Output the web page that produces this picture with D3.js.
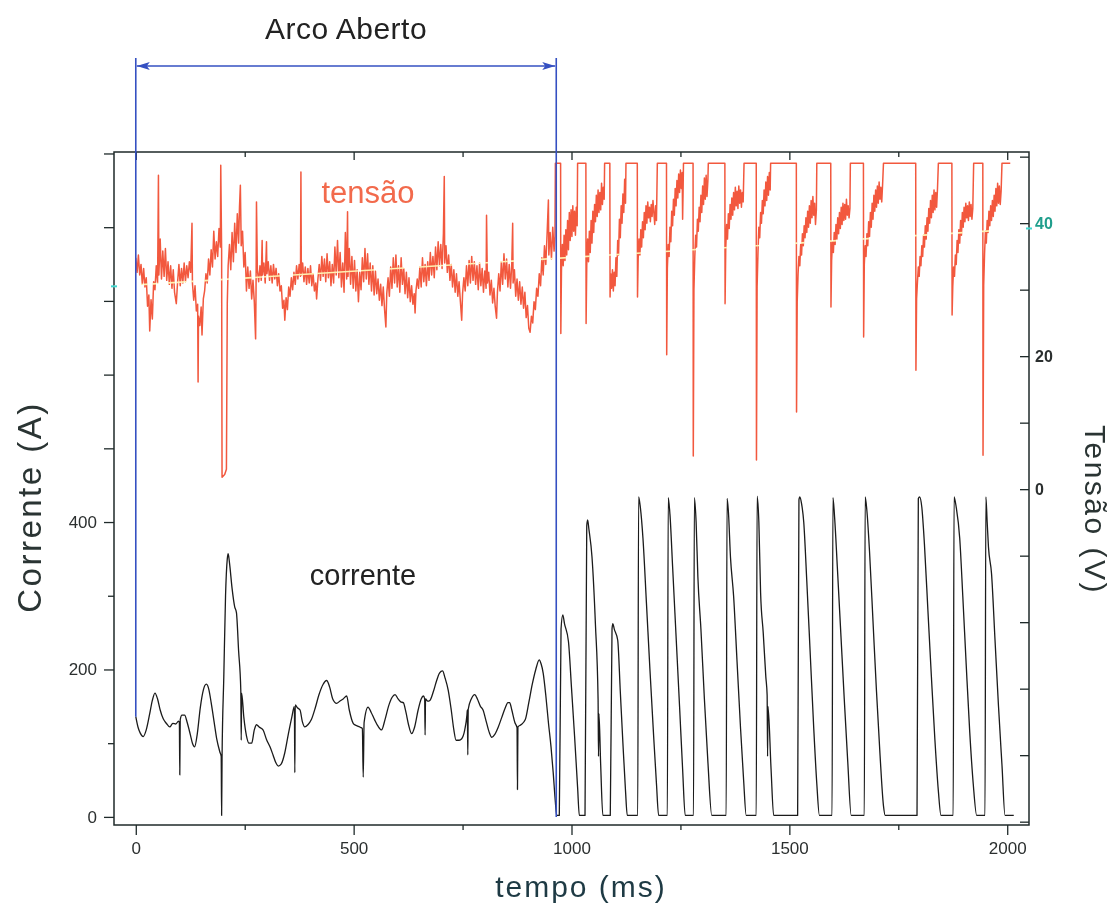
<!DOCTYPE html>
<html>
<head>
<meta charset="utf-8">
<script src="https://cdn.jsdelivr.net/npm/d3@7"></script>
<style>
  body { margin: 0; background: #fff; }
  svg { display: block; font-family: 'Liberation Sans', Arial, sans-serif; }
</style>
</head>
<body>
<div id="chart"></div>
<script>
// tempo (ms), corrente (A) — arco aberto, antes de ~965 ms
const correnteArcoAberto = [
  [0, 136], [5, 122], [10, 114], [17, 109], [24, 118], [32, 140], [38, 158], [44, 168], [50, 160], [56, 145],
  [63, 133], [70, 127], [78, 122], [85, 127], [92, 126], [98, 130], [100, 128], [101, 57], [102, 132], [106, 138],
  [112, 138], [118, 128], [125, 112], [130, 100], [135, 95], [141, 112], [148, 148], [155, 172], [162, 180], [168, 172],
  [173, 155], [180, 128], [186, 105], [193, 88], [196, 82], [197, 2], [198, 80], [202, 190], [206, 300], [210, 350],
  [212, 357], [215, 345], [221, 310], [227, 285], [231, 277], [236, 225], [241, 172], [242, 104], [243, 168], [248, 135],
  [254, 110], [260, 100], [266, 100], [272, 118], [277, 125], [283, 122], [292, 118], [300, 105], [308, 95], [315, 84],
  [321, 74], [327, 69], [334, 72], [342, 87], [350, 112], [358, 135], [364, 150], [365, 60], [366, 152], [371, 148],
  [377, 145], [382, 130], [388, 122], [395, 125], [403, 132], [412, 148], [420, 165], [430, 180], [438, 185], [445, 176],
  [452, 160], [461, 154], [468, 157], [476, 160], [484, 164], [490, 145], [499, 127], [506, 124], [514, 122], [520, 120],
  [522, 54], [524, 128], [533, 149], [540, 142], [548, 132], [556, 123], [564, 118], [572, 132], [580, 150], [588, 162],
  [595, 166], [602, 160], [608, 156], [614, 155], [620, 142], [626, 125], [633, 113], [640, 122], [648, 145], [655, 160],
  [660, 164], [663, 160], [664, 111], [665, 160], [670, 157], [675, 158], [683, 170], [690, 184], [697, 195], [704, 198],
  [710, 188], [717, 172], [724, 145], [730, 118], [735, 104], [742, 104], [748, 106], [755, 118], [760, 138], [761, 145],
  [762, 84], [763, 146], [770, 160], [778, 166], [784, 160], [791, 150], [797, 145], [804, 130], [811, 115], [817, 108],
  [824, 112], [832, 122], [840, 135], [848, 148], [854, 155], [858, 155], [863, 145], [870, 128], [875, 121], [876, 37],
  [877, 122], [884, 125], [894, 132], [902, 155], [910, 180], [918, 200], [926, 213], [930, 208], [935, 195], [941, 165],
  [947, 128], [953, 95], [958, 60], [963, 20], [966, 2]
]

// tempo (ms), corrente (A) — pulsos após ~965 ms
const correntePulsos = [
  [969, 2], [972, 2], [976, 255], [980, 274], [984, 262], [993, 238], [1000, 175], [1007, 110], [1014, 40], [1018, 2],
  [1031, 2], [1035, 395], [1037, 403], [1040, 390], [1047, 353], [1055, 260], [1061, 160], [1062, 82], [1063, 140], [1067, 70], [1072, 2],
  [1089, 2], [1093, 255], [1095, 262], [1098, 255], [1106, 240], [1112, 170], [1118, 100], [1124, 35], [1128, 2],
  [1152, 2], [1154, 434], [1158, 420], [1164, 378], [1172, 290], [1180, 200], [1188, 115], [1195, 45], [1200, 2],
  [1220, 2], [1222, 433], [1226, 410], [1232, 340], [1240, 245], [1248, 150], [1255, 65], [1261, 2],
  [1280, 2], [1282, 433], [1286, 400], [1290, 326], [1297, 255], [1305, 160], [1313, 75], [1322, 2],
  [1355, 2], [1357, 432], [1360, 415], [1365, 351], [1372, 300], [1380, 210], [1388, 120], [1395, 50], [1401, 2],
  [1424, 2], [1426, 435], [1430, 400], [1434, 304], [1440, 250], [1446, 190], [1449, 165], [1450, 82], [1451, 150], [1458, 65], [1464, 2],
  [1519, 2], [1522, 430], [1524, 434], [1528, 425], [1533, 400], [1540, 320], [1548, 220], [1556, 120], [1563, 45], [1569, 2],
  [1598, 2], [1600, 433], [1604, 405], [1610, 340], [1618, 250], [1626, 160], [1634, 75], [1642, 2],
  [1672, 2], [1674, 434], [1678, 415], [1684, 360], [1692, 265], [1700, 170], [1708, 85], [1716, 15], [1720, 2],
  [1793, 2], [1796, 432], [1799, 434], [1804, 420], [1810, 370], [1818, 280], [1826, 190], [1834, 105], [1842, 35], [1848, 2],
  [1876, 2], [1878, 434], [1883, 420], [1891, 378], [1898, 300], [1906, 205], [1914, 115], [1922, 45], [1930, 2],
  [1949, 2], [1951, 434], [1954, 400], [1957, 366], [1964, 330], [1972, 240], [1980, 150], [1988, 70], [1995, 2], [2015, 2]
]

// tempo (ms), tensão (V) — arco aberto
const tensaoArcoAberto = [
  [0, 34.8], [3, 32.6], [6, 35.2], [9, 32.2], [12, 33.8], [15, 30.8], [18, 33.2], [21, 30.4], [24, 31.8], [27, 27.5],
  [30, 29.2], [32, 23.8], [35, 28.5], [38, 25.6], [41, 31.2], [44, 30.0], [47, 33.6], [50, 31.0], [52, 47.2], [53, 32.2],
  [56, 37.6], [59, 31.6], [62, 35.8], [65, 32.0], [68, 36.2], [71, 31.4], [74, 34.2], [77, 30.8], [80, 33.6], [83, 30.2],
  [86, 33.0], [89, 29.6], [93, 27.9], [96, 31.2], [99, 33.8], [102, 30.6], [105, 33.2], [108, 31.0], [111, 34.0], [114, 31.2],
  [117, 33.6], [120, 31.8], [123, 34.2], [126, 32.6], [129, 40.0], [130, 31.0], [133, 28.4], [136, 30.6], [139, 26.8], [142, 27.8],
  [143, 16.1], [144, 26.0], [147, 24.6], [150, 27.4], [152, 23.2], [155, 28.6], [158, 29.8], [161, 32.4], [164, 31.0], [167, 34.6],
  [170, 32.2], [173, 36.0], [176, 33.4], [179, 38.8], [182, 34.6], [185, 37.2], [188, 35.0], [191, 39.2], [194, 36.4], [195, 48.7],
  [197, 36.0], [198, 1.8], [204, 2.2], [208, 3.0], [210, 28.0], [212, 33.6], [215, 36.8], [218, 33.0], [221, 38.6], [224, 34.2],
  [227, 40.0], [230, 35.6], [233, 41.4], [236, 37.0], [238, 42.4], [240, 45.7], [242, 36.6], [245, 38.8], [248, 33.4], [251, 35.6],
  [254, 29.8], [257, 33.4], [260, 30.2], [263, 32.8], [266, 28.6], [269, 31.4], [272, 28.2], [275, 22.6], [276, 30.0], [277, 43.2],
  [279, 33.0], [282, 31.2], [285, 33.6], [288, 31.4], [290, 37.4], [291, 32.2], [294, 34.0], [297, 31.0], [300, 37.2], [301, 32.4],
  [304, 34.2], [307, 31.4], [310, 33.6], [313, 31.0], [316, 33.8], [319, 31.6], [322, 33.2], [325, 30.6], [328, 32.4], [331, 29.8],
  [334, 30.6], [337, 27.2], [340, 28.4], [342, 25.4], [345, 28.8], [348, 27.0], [351, 30.4], [354, 29.0], [357, 31.8], [360, 30.0],
  [363, 32.6], [366, 30.8], [369, 33.6], [372, 31.6], [375, 33.8], [378, 32.0], [379, 47.7], [380, 32.2], [383, 34.0], [386, 31.2],
  [389, 33.4], [392, 30.8], [395, 33.2], [398, 31.0], [401, 33.6], [404, 30.6], [407, 32.4], [410, 29.8], [413, 31.0], [415, 28.6],
  [418, 31.6], [421, 33.8], [424, 31.4], [427, 35.0], [430, 32.0], [433, 34.6], [436, 31.2], [439, 35.4], [442, 31.8], [445, 34.2],
  [448, 30.6], [451, 33.8], [454, 31.0], [457, 36.4], [460, 32.2], [463, 37.4], [466, 31.8], [469, 35.6], [472, 30.4], [475, 34.0],
  [478, 29.6], [481, 38.6], [484, 31.6], [486, 41.7], [487, 32.0], [490, 36.2], [493, 30.8], [496, 35.0], [499, 30.2], [502, 34.4],
  [505, 29.8], [508, 33.0], [511, 28.2], [514, 32.6], [517, 30.0], [520, 34.8], [523, 31.2], [526, 36.2], [529, 31.6], [532, 35.4],
  [535, 30.8], [538, 34.0], [541, 29.8], [544, 33.6], [547, 29.2], [550, 32.8], [553, 29.4], [556, 31.6], [559, 28.4], [562, 30.8],
  [565, 27.6], [568, 30.4], [571, 27.0], [574, 24.4], [576, 29.4], [579, 31.8], [582, 29.0], [585, 33.4], [588, 30.2], [591, 34.8],
  [594, 31.0], [597, 35.2], [600, 30.4], [603, 33.6], [606, 29.6], [609, 34.8], [612, 30.8], [615, 33.2], [618, 29.4], [621, 32.6],
  [624, 28.8], [627, 31.8], [630, 28.2], [633, 30.6], [636, 27.8], [639, 29.4], [641, 26.5], [643, 29.8], [646, 31.6], [649, 30.2],
  [652, 33.4], [655, 30.4], [658, 34.8], [661, 31.2], [664, 33.8], [667, 30.6], [670, 34.2], [673, 31.4], [676, 35.6], [679, 32.2],
  [682, 35.0], [685, 31.8], [688, 36.4], [691, 33.0], [694, 37.2], [697, 33.6], [700, 36.8], [703, 33.2], [706, 38.4], [708, 47.0],
  [709, 34.0], [712, 36.6], [715, 32.6], [718, 35.2], [721, 31.4], [724, 33.8], [727, 30.4], [730, 33.0], [733, 29.6], [736, 32.4],
  [739, 29.0], [742, 31.2], [745, 28.2], [748, 25.4], [750, 29.4], [753, 31.8], [756, 29.8], [759, 33.6], [762, 30.6], [765, 34.4],
  [768, 31.0], [771, 35.0], [774, 31.4], [777, 34.2], [780, 30.8], [783, 33.6], [786, 30.0], [789, 34.0], [792, 30.6], [795, 33.2],
  [798, 29.6], [801, 32.8], [804, 30.2], [805, 41.2], [807, 31.0], [810, 32.6], [813, 29.2], [816, 31.4], [819, 28.0], [822, 30.2],
  [825, 27.4], [828, 25.7], [830, 29.6], [833, 32.4], [836, 29.8], [839, 34.2], [842, 30.8], [845, 35.4], [848, 31.6], [851, 34.6],
  [854, 30.4], [857, 33.8], [860, 30.2], [863, 34.0], [865, 40.0], [866, 31.0], [869, 33.0], [872, 29.0], [875, 31.6], [878, 28.4],
  [881, 31.2], [884, 27.8], [887, 30.4], [890, 27.2], [893, 29.6], [896, 25.8], [899, 27.6], [902, 24.2], [905, 23.6], [908, 26.0],
  [911, 25.0], [914, 28.2], [917, 27.0], [920, 30.2], [923, 29.0], [926, 32.4], [929, 30.6], [932, 34.8], [935, 32.2], [938, 36.6],
  [941, 33.8], [944, 38.4], [947, 43.5], [948, 35.2], [951, 38.6], [954, 34.6], [957, 39.4], [960, 35.8], [962, 38.0]
]

// tempo (ms), tensão (V) — pulsos (49 V com corrente nula)
const tensaoPulsos = [
  [963, 49], [975, 49], [975.5, 23.4], [977, 33.0], [979, 36.8], [981, 33.6], [983, 38.2], [985, 34.4], [987, 39.0], [989, 35.2],
  [991, 40.4], [993, 36.0], [995, 41.6], [997, 37.4], [999, 42.0], [1001, 38.0], [1003, 42.6], [1005, 38.8], [1007, 41.8], [1009, 38.2],
  [1011, 42.4], [1013, 39.6], [1014, 49],
  [1033, 49], [1033.5, 24.9], [1035, 33.6], [1037, 37.6], [1039, 34.2], [1041, 38.8], [1043, 35.6], [1045, 40.4], [1047, 37.0], [1049, 41.8],
  [1051, 38.6], [1053, 42.8], [1055, 40.2], [1057, 44.2], [1059, 41.0], [1061, 45.0], [1063, 41.6], [1065, 44.6], [1067, 42.0], [1069, 46.0],
  [1071, 42.8], [1073, 45.4], [1075, 43.6], [1076, 49],
  [1088, 49], [1088.5, 28.9], [1090, 32.4], [1092, 30.2], [1094, 33.0], [1096, 29.8], [1098, 32.6], [1100, 30.6], [1102, 34.8], [1104, 32.0],
  [1106, 37.4], [1108, 35.2], [1110, 40.6], [1112, 37.8], [1114, 42.6], [1116, 40.0], [1118, 44.4], [1120, 41.6], [1122, 46.6], [1124, 43.0], [1125, 49],
  [1151, 49], [1151.5, 28.9], [1153, 34.6], [1155, 37.6], [1157, 35.2], [1159, 39.0], [1161, 36.4], [1163, 40.2], [1165, 37.8], [1167, 41.6],
  [1169, 39.0], [1171, 42.6], [1173, 40.0], [1175, 43.2], [1177, 40.8], [1179, 42.4], [1181, 40.2], [1183, 42.8], [1185, 41.0], [1187, 43.4],
  [1189, 41.6], [1191, 39.8], [1193, 42.6], [1195, 40.4], [1197, 49],
  [1218, 49], [1218.5, 20.2], [1220, 33.2], [1222, 36.8], [1224, 35.0], [1226, 39.4], [1228, 37.2], [1230, 41.8], [1232, 39.6], [1234, 43.6],
  [1236, 41.2], [1238, 45.2], [1240, 42.6], [1242, 46.4], [1244, 43.8], [1246, 47.4], [1248, 44.6], [1250, 48.0], [1252, 45.2], [1254, 47.6],
  [1255, 40.6], [1256, 44.4], [1257, 49],
  [1279, 49], [1279.5, 5.0], [1281, 30.0], [1283, 35.0], [1285, 38.2], [1287, 36.4], [1289, 40.6], [1291, 38.8], [1293, 42.4], [1295, 40.2],
  [1297, 44.2], [1299, 41.6], [1301, 45.6], [1303, 42.8], [1305, 46.8], [1307, 43.6], [1309, 47.2], [1311, 44.0], [1313, 46.4], [1314, 49],
  [1352, 49], [1352.5, 27.9], [1354, 36.2], [1356, 39.8], [1358, 37.6], [1360, 41.4], [1362, 39.2], [1364, 42.8], [1366, 40.6], [1368, 43.8],
  [1370, 41.2], [1372, 44.6], [1374, 42.0], [1376, 45.4], [1378, 42.6], [1380, 44.8], [1382, 42.2], [1384, 45.6], [1386, 43.0], [1388, 45.0],
  [1390, 42.4], [1392, 44.6], [1394, 43.2], [1396, 49],
  [1424, 49], [1424.5, 4.4], [1426, 30.4], [1428, 35.6], [1430, 39.4], [1432, 37.8], [1434, 41.6], [1436, 40.0], [1438, 43.4], [1440, 41.4],
  [1442, 45.0], [1444, 42.6], [1446, 46.2], [1448, 43.4], [1450, 47.0], [1452, 44.2], [1454, 47.6], [1456, 45.0], [1457, 49],
  [1516, 49], [1516.5, 11.6], [1518, 28.2], [1520, 32.4], [1522, 35.0], [1524, 33.6], [1526, 36.8], [1528, 35.2], [1530, 38.4], [1532, 36.6],
  [1534, 39.6], [1536, 37.8], [1538, 40.8], [1540, 38.6], [1542, 41.8], [1544, 39.4], [1546, 42.6], [1548, 40.0], [1550, 43.4], [1552, 40.8],
  [1554, 44.0], [1556, 41.2], [1558, 43.0], [1560, 39.8], [1562, 42.0], [1563, 49],
  [1595, 49], [1595.5, 27.4], [1597, 34.4], [1599, 37.2], [1601, 35.6], [1603, 38.6], [1605, 36.8], [1607, 39.8], [1609, 37.6], [1611, 40.8],
  [1613, 38.4], [1615, 41.6], [1617, 39.2], [1619, 42.4], [1621, 39.8], [1623, 43.0], [1625, 40.4], [1627, 42.8], [1629, 40.6], [1631, 43.6],
  [1633, 41.2], [1635, 42.6], [1637, 40.8], [1639, 42.2], [1640, 49],
  [1670, 49], [1670.5, 22.9], [1672, 33.8], [1674, 36.6], [1676, 35.0], [1678, 38.4], [1680, 36.6], [1682, 40.2], [1684, 38.0], [1686, 41.6],
  [1688, 39.4], [1690, 43.0], [1692, 40.6], [1694, 44.2], [1696, 41.8], [1698, 45.0], [1700, 42.4], [1702, 45.6], [1704, 43.0], [1706, 46.2],
  [1708, 43.6], [1710, 45.4], [1712, 43.2], [1714, 45.8], [1716, 49],
  [1790, 49], [1790.5, 17.9], [1792, 28.6], [1794, 31.2], [1796, 33.4], [1798, 32.0], [1800, 35.0], [1802, 33.6], [1804, 36.6], [1806, 35.0],
  [1808, 38.2], [1810, 36.4], [1812, 39.6], [1814, 37.6], [1816, 40.8], [1818, 38.8], [1820, 42.2], [1822, 40.0], [1824, 43.4], [1826, 40.8],
  [1828, 44.2], [1830, 41.6], [1832, 45.0], [1834, 42.0], [1836, 44.6], [1838, 42.4], [1840, 45.2], [1842, 49],
  [1873, 49], [1873.5, 26.2], [1875, 30.4], [1877, 33.4], [1879, 32.0], [1881, 35.2], [1883, 33.8], [1885, 37.4], [1887, 35.6], [1889, 39.0],
  [1891, 37.0], [1893, 40.4], [1895, 38.2], [1897, 41.6], [1899, 39.4], [1901, 42.4], [1903, 40.2], [1905, 43.0], [1907, 40.8], [1909, 42.6],
  [1911, 40.4], [1913, 43.2], [1915, 41.0], [1917, 42.8], [1919, 40.6], [1921, 42.2], [1923, 49],
  [1944, 49], [1944.5, 5.1], [1946, 30.6], [1948, 35.4], [1950, 38.8], [1952, 37.0], [1954, 40.4], [1956, 38.6], [1958, 41.8], [1960, 39.6],
  [1962, 42.6], [1964, 40.4], [1966, 43.4], [1968, 41.0], [1970, 44.2], [1972, 41.8], [1974, 45.2], [1976, 42.6], [1978, 46.0], [1980, 43.0],
  [1982, 45.6], [1984, 42.8], [1986, 44.8], [1988, 49], [2007, 49]
]

// reta de tendência da tensão (extremos)
const tendencia = [[-50, 30.5], [2050, 39.2]]

// intervalo "Arco Aberto" (ms)
const arcoAberto = [0, 965]

const tempoTicks = [0, 500, 1000, 1500, 2000]
const tempoMinor = [250, 750, 1250, 1750]
const correnteTicks = [0, 200, 400]
const correnteMinor = [100, 300]
const correnteSemRotulo = [500, 600, 700, 800, 900]
const tensaoTicks = [-50, -40, -30, -20, -10, 0, 10, 20, 30, 40, 50]
const tensaoRotulos = [0, 20, 40]

const W = 1113
const H = 905
const plot = { left: 114, right: 1029, top: 152, bottom: 825 }
const colors = {
  tensao: '#f2583e',
  corrente: '#1b1b1b',
  tendencia: '#fff0b0',
  azul: '#3550c2',
  eixo: '#1f2a2a',
  texto: '#2b2f2f'
}

const x = d3.scaleLinear([-50, 2050], [plot.left, plot.right])
const yA = d3.scaleLinear([-11, 902], [plot.bottom, plot.top])
const yV = d3.scaleLinear([-50.5, 50.7], [plot.bottom, plot.top])

const svg = d3.select('#chart').append('svg').attr('width', W).attr('height', H)

const styleAxis = (g, size = 17) => {
  g.attr('font-size', size).attr('font-family', "'Liberation Sans', Arial, sans-serif").attr('color', colors.eixo)
  g.select('.domain').remove()
  g.selectAll('.tick line').attr('stroke-width', 1.3)
  g.selectAll('.tick text').attr('fill', colors.texto)
}

// eixo x (baixo e topo)
svg.append('g').attr('transform', `translate(0,${plot.bottom})`)
  .call(d3.axisBottom(x).tickValues(tempoTicks).tickSize(10).tickPadding(7).tickFormat(d3.format('d')))
  .call(styleAxis)
svg.append('g').attr('transform', `translate(0,${plot.bottom})`)
  .call(d3.axisBottom(x).tickValues(tempoMinor).tickSize(5).tickFormat(''))
  .call(styleAxis)
svg.append('g').attr('transform', `translate(0,${plot.top})`)
  .call(d3.axisBottom(x).tickValues(tempoTicks).tickSize(8).tickFormat(''))
  .call(styleAxis)
svg.append('g').attr('transform', `translate(0,${plot.top})`)
  .call(d3.axisBottom(x).tickValues(tempoMinor).tickSize(5).tickFormat(''))
  .call(styleAxis)

// eixo corrente (esquerda)
svg.append('g').attr('transform', `translate(${plot.left},0)`)
  .call(d3.axisLeft(yA).tickValues(correnteTicks).tickSize(10).tickPadding(7))
  .call(styleAxis)
svg.append('g').attr('transform', `translate(${plot.left},0)`)
  .call(d3.axisLeft(yA).tickValues(correnteSemRotulo).tickSize(10).tickFormat(''))
  .call(styleAxis)
svg.append('g').attr('transform', `translate(${plot.left},0)`)
  .call(d3.axisLeft(yA).tickValues(correnteMinor).tickSize(6).tickFormat(''))
  .call(styleAxis)

// eixo tensão (direita, marcas para dentro)
svg.append('g').attr('transform', `translate(${plot.right},0)`)
  .call(d3.axisRight(yV).tickValues(tensaoTicks).tickSize(-9).tickPadding(6)
    .tickFormat(d => tensaoRotulos.includes(d) ? d : ''))
  .call(g => styleAxis(g, 16))
  .call(g => g.selectAll('.tick text').attr('font-weight', 'bold')
    .attr('fill', d => d === 40 ? '#1f9e8c' : colors.texto))

// moldura
svg.append('rect')
  .attr('x', plot.left).attr('y', plot.top)
  .attr('width', plot.right - plot.left).attr('height', plot.bottom - plot.top)
  .attr('fill', 'none').attr('stroke', colors.eixo).attr('stroke-width', 1.5)

const tensaoLine = d3.line().x(d => x(d[0])).y(d => yV(d[1]))
const correnteLine = d3.line().x(d => x(d[0])).y(d => yA(d[1])).curve(d3.curveMonotoneX)

svg.append('path')
  .datum(tensaoArcoAberto.concat(tensaoPulsos))
  .attr('d', tensaoLine)
  .attr('fill', 'none').attr('stroke', colors.tensao).attr('stroke-width', 1.5)
  .attr('stroke-linejoin', 'round')

// a reta só aparece sobre o traço vermelho
svg.append('path')
  .datum(tendencia)
  .attr('d', tensaoLine)
  .attr('fill', 'none').attr('stroke', colors.tendencia).attr('stroke-width', 1.6)
  .style('mix-blend-mode', 'lighten')

// pontas ciano da reta de tendência sobre os eixos
svg.selectAll('line.ponta')
  .data(tendencia)
  .join('line')
  .attr('class', 'ponta')
  .attr('x1', d => x(d[0]) - 3).attr('x2', d => x(d[0]) + 3)
  .attr('y1', d => yV(d[1])).attr('y2', d => yV(d[1]))
  .attr('stroke', '#3fd6d0').attr('stroke-width', 2)

svg.append('path')
  .datum(correnteArcoAberto.concat(correntePulsos))
  .attr('d', correnteLine)
  .attr('fill', 'none').attr('stroke', colors.corrente).attr('stroke-width', 1.3)
  .attr('stroke-linejoin', 'round')

// anotação "Arco Aberto"
const topoAnot = 58
const setaY = 66
const defs = svg.append('defs')
defs.append('marker')
  .attr('id', 'seta')
  .attr('viewBox', '0 -5 14 10')
  .attr('refX', 13).attr('refY', 0)
  .attr('markerWidth', 14).attr('markerHeight', 10)
  .attr('markerUnits', 'userSpaceOnUse')
  .attr('orient', 'auto-start-reverse')
  .append('path')
  .attr('d', 'M0,-4L13,0L0,4L3,0Z')
  .attr('fill', colors.azul)

svg.append('line')
  .attr('x1', x(arcoAberto[0])).attr('x2', x(arcoAberto[0]))
  .attr('y1', topoAnot).attr('y2', yA(correnteArcoAberto[0][1]))
  .attr('stroke', colors.azul).attr('stroke-width', 1.6)
svg.append('line')
  .attr('x1', x(arcoAberto[1])).attr('x2', x(arcoAberto[1]))
  .attr('y1', topoAnot).attr('y2', yA(0))
  .attr('stroke', colors.azul).attr('stroke-width', 1.6)
svg.append('line')
  .attr('x1', x(arcoAberto[0]) + 1).attr('x2', x(arcoAberto[1]) - 1)
  .attr('y1', setaY).attr('y2', setaY)
  .attr('stroke', colors.azul).attr('stroke-width', 1.4)
  .attr('marker-start', 'url(#seta)').attr('marker-end', 'url(#seta)')

svg.append('text')
  .attr('x', (x(arcoAberto[0]) + x(arcoAberto[1])) / 2).attr('y', 39)
  .attr('text-anchor', 'middle').attr('font-size', 30).attr('letter-spacing', 0.5)
  .attr('fill', '#222')
  .text('Arco Aberto')

// rótulos das séries
svg.append('text')
  .attr('x', 368).attr('y', 203)
  .attr('text-anchor', 'middle').attr('font-size', 31)
  .attr('fill', '#f26a4c')
  .text('tensão')
svg.append('text')
  .attr('x', 363).attr('y', 585)
  .attr('text-anchor', 'middle').attr('font-size', 29)
  .attr('fill', '#222')
  .text('corrente')

// títulos dos eixos
svg.append('text')
  .attr('transform', 'translate(41,507) rotate(-90)')
  .attr('text-anchor', 'middle').attr('font-size', 33).attr('letter-spacing', 2.5)
  .attr('fill', '#2a3433')
  .text('Corrente (A)')
svg.append('text')
  .attr('transform', 'translate(1085,510) rotate(90)')
  .attr('text-anchor', 'middle').attr('font-size', 30).attr('letter-spacing', 2.5)
  .attr('fill', '#2a3433')
  .text('Tensão (V)')
svg.append('text')
  .attr('x', 581).attr('y', 897)
  .attr('text-anchor', 'middle').attr('font-size', 30).attr('letter-spacing', 2)
  .attr('fill', '#1e3a44')
  .text('tempo (ms)')
</script>
</body>
</html>
